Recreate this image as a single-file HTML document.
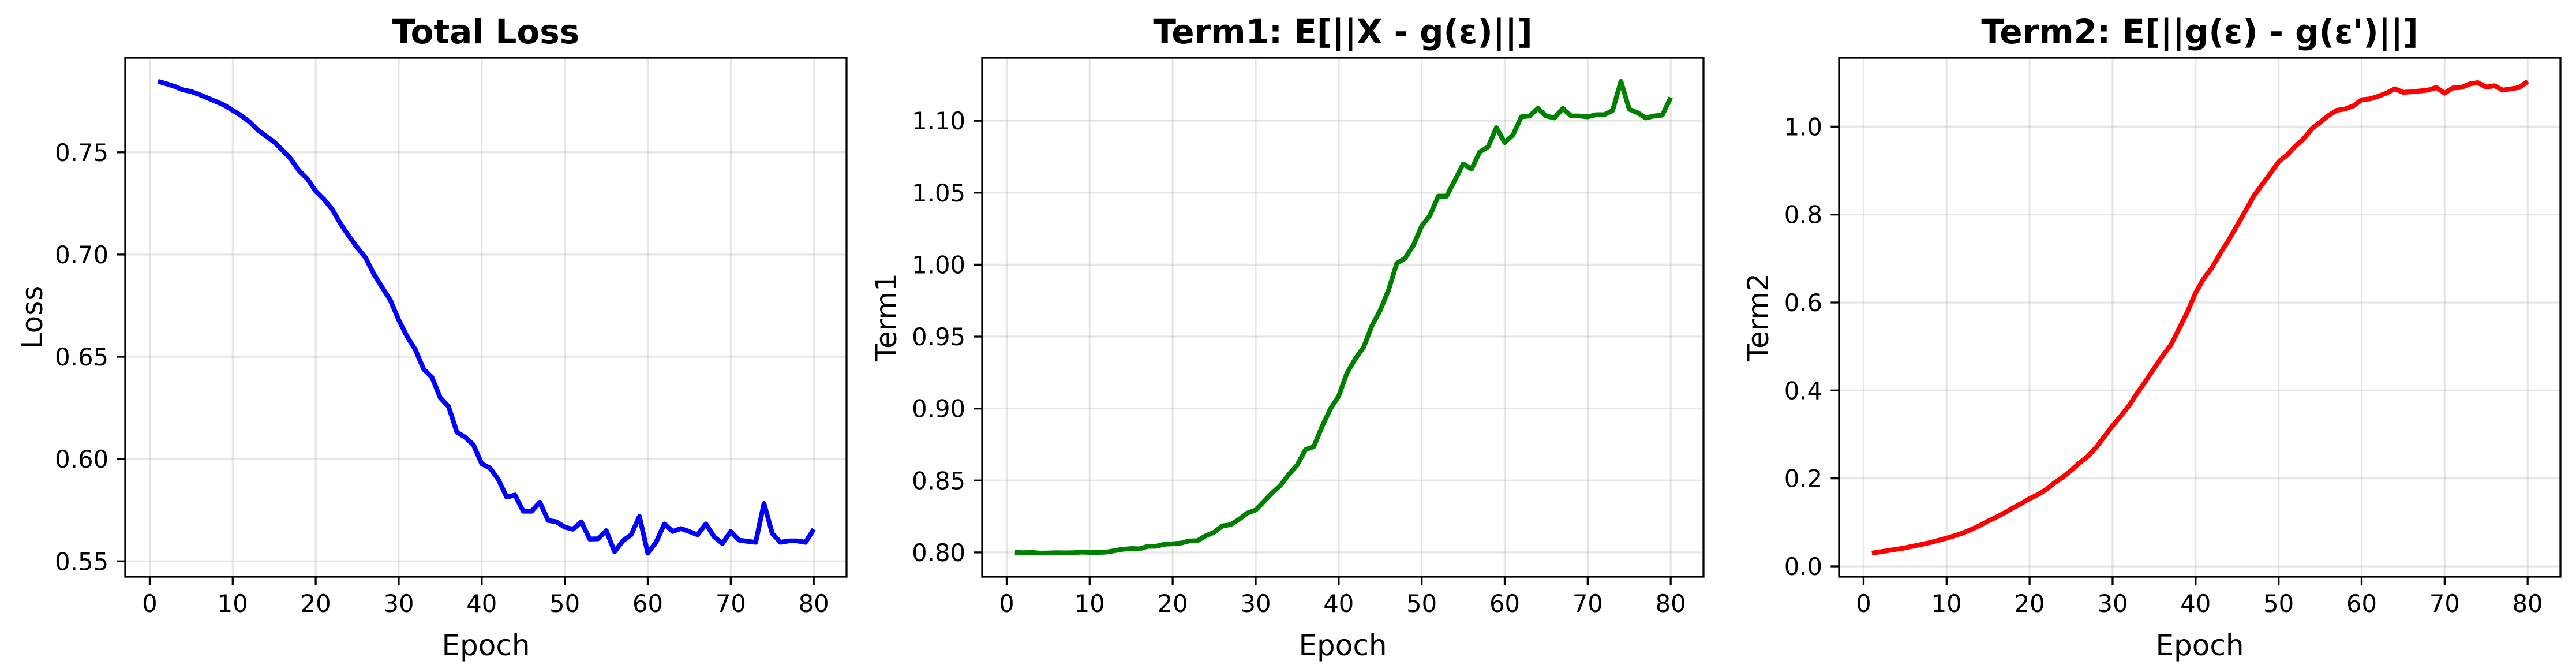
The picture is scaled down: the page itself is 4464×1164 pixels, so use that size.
<!DOCTYPE html>
<html><head><meta charset="utf-8"><style>
html,body{margin:0;padding:0;background:#fff;}
svg{display:block;font-family:"DejaVu Sans","Liberation Sans",sans-serif;}
</style></head><body>
<svg id="chart" width="4464" height="1164" viewBox="0 0 4464 1164" xmlns="http://www.w3.org/2000/svg">
<rect width="4464" height="1164" fill="#fff"/>
</svg>
<script>
const epochs = Array.from({length:80},(_,i)=>i+1);
const totalLoss = [0.7847,0.7835,0.7822,0.7805,0.7797,0.7782,0.7765,0.7748,0.7730,0.7705,0.7680,0.7650,0.7610,0.7580,0.7550,0.7510,0.7467,0.7410,0.7370,0.7310,0.7270,0.7220,0.7150,0.7090,0.7035,0.6985,0.6905,0.6840,0.6776,0.6680,0.6600,0.6535,0.6440,0.6400,0.6300,0.6257,0.6132,0.6107,0.6070,0.5977,0.5956,0.5900,0.5814,0.5824,0.5745,0.5745,0.5789,0.5700,0.5693,0.5667,0.5657,0.5693,0.5609,0.5610,0.5650,0.5547,0.5600,0.5630,0.5720,0.5540,0.5593,0.5683,0.5646,0.5660,0.5646,0.5630,0.5683,0.5620,0.5587,0.5646,0.5604,0.5598,0.5593,0.5783,0.5636,0.5593,0.5600,0.5600,0.5593,0.5657];
const term1 = [0.8000,0.7998,0.8000,0.7995,0.7996,0.7998,0.7997,0.7998,0.8002,0.8000,0.8000,0.8002,0.8012,0.8022,0.8027,0.8025,0.8042,0.8043,0.8057,0.8060,0.8065,0.8080,0.8082,0.8116,0.8140,0.8185,0.8193,0.8230,0.8274,0.8295,0.8354,0.8414,0.8467,0.8542,0.8607,0.8714,0.8735,0.8875,0.8997,0.9086,0.9247,0.9345,0.9426,0.9574,0.9682,0.9821,1.0009,1.0045,1.0134,1.0268,1.0342,1.0476,1.0476,1.0586,1.0700,1.0664,1.0783,1.0818,1.0952,1.0848,1.0902,1.1027,1.1033,1.1086,1.1033,1.1020,1.1086,1.1033,1.1033,1.1027,1.1042,1.1042,1.1071,1.1274,1.1080,1.1056,1.1020,1.1033,1.1039,1.1161];
const term2 = [0.030,0.033,0.036,0.039,0.042,0.046,0.050,0.054,0.059,0.064,0.070,0.076,0.084,0.093,0.103,0.112,0.122,0.133,0.143,0.154,0.163,0.175,0.190,0.203,0.218,0.235,0.250,0.270,0.295,0.320,0.342,0.366,0.395,0.422,0.450,0.478,0.503,0.540,0.578,0.622,0.655,0.680,0.713,0.742,0.775,0.808,0.842,0.868,0.893,0.920,0.935,0.955,0.972,0.995,1.010,1.025,1.037,1.040,1.047,1.061,1.063,1.069,1.076,1.086,1.078,1.079,1.081,1.083,1.089,1.076,1.088,1.089,1.097,1.100,1.090,1.093,1.083,1.086,1.089,1.103];
const xTicks = [0,10,20,30,40,50,60,70,80];
const yTicksLoss = [0.55,0.60,0.65,0.70,0.75];
const yTicksTerm1 = [0.80,0.85,0.90,0.95,1.00,1.05,1.10];
const yTicksTerm2 = [0.0,0.2,0.4,0.6,0.8,1.0];

const NS='http://www.w3.org/2000/svg';
const svg=document.getElementById('chart');
function mk(tag,attrs,parent){const e=document.createElementNS(NS,tag);for(const k in attrs)e.setAttribute(k,attrs[k]);(parent||svg).appendChild(e);return e;}

const panels=[
 {key:'loss',left:217,title:'Total Loss',ylabel:'Loss',ylabOff:162,data:totalLoss,ticks:yTicksLoss,dec:2,color:'#0000ff'},
 {key:'term1',left:1702,title:'Term1: E[||X - g(ε)||]',ylabOff:167,ylabel:'Term1',data:term1,ticks:yTicksTerm1,dec:2,color:'#008000'},
 {key:'term2',left:3187,title:"Term2: E[||g(ε) - g(ε')||]",ylabOff:141,ylabel:'Term2',data:term2,ticks:yTicksTerm2,dec:1,color:'#ff0000'}
];
const W=1250,TOP=100,BOT=999;
panels.forEach(p=>{
  const g=mk('g',{});
  
  
  const xmin=Math.min(...epochs),xmax=Math.max(...epochs),xm=(xmax-xmin)*0.05;
  const x0=xmin-xm,x1=xmax+xm;
  const ymin=Math.min(...p.data),ymax=Math.max(...p.data),ym=(ymax-ymin)*0.05;
  const y0=ymin-ym,y1=ymax+ym;
  const sx=v=>p.left+(v-x0)/(x1-x0)*W;
  const sy=v=>BOT-(v-y0)/(y1-y0)*(BOT-TOP);
  // grid
  xTicks.forEach(t=>{
    const l=mk('line',{x1:sx(t),x2:sx(t),y1:TOP,y2:BOT,stroke:'#b0b0b0','stroke-opacity':0.3,'stroke-width':3.3},g);
    
    
  });
  p.ticks.forEach(t=>{
    const l=mk('line',{x1:p.left,x2:p.left+W,y1:sy(t),y2:sy(t),stroke:'#b0b0b0','stroke-opacity':0.3,'stroke-width':3.3},g);
    
    
  });
  // line
  const d=epochs.map((e,i)=>(i?'L':'M')+sx(e).toFixed(1)+','+sy(p.data[i]).toFixed(1)).join(' ');
  const path=mk('path',{d:d,fill:'none',stroke:p.color,'stroke-width':8.3,'stroke-linejoin':'round','stroke-linecap':'butt'},g);
  
  
  // frame
  const fr=mk('rect',{x:p.left,y:TOP,width:W,height:BOT-TOP,fill:'none',stroke:'#000','stroke-width':3.3},g);
  
  
  // x ticks
  xTicks.forEach(t=>{
    mk('line',{x1:sx(t),x2:sx(t),y1:BOT,y2:BOT+14.6,stroke:'#000','stroke-width':3.3},g);
    const tx=mk('text',{x:sx(t),y:1060,'font-size':41.7,'text-anchor':'middle',fill:'#000'},g);
    tx.textContent=String(t);
    
    
  });
  p.ticks.forEach(t=>{
    mk('line',{x1:p.left-14.6,x2:p.left,y1:sy(t),y2:sy(t),stroke:'#000','stroke-width':3.3},g);
    const tx=mk('text',{x:p.left-29,y:sy(t)+15,'font-size':41.7,'text-anchor':'end',fill:'#000'},g);
    tx.textContent=t.toFixed(p.dec);
    
    
  });
  const ti=mk('text',{x:p.left+W/2,y:75,'font-size':58,'font-weight':'bold','text-anchor':'middle',fill:'#000'},g);
  ti.textContent=p.title;
  
  
  const xl=mk('text',{x:p.left+W/2,y:1135,'font-size':50,'text-anchor':'middle',fill:'#000'},g);
  xl.textContent='Epoch';
  
  
  const cx=p.left-p.ylabOff+18,cy=(TOP+BOT)/2;
  const yl=mk('text',{x:cx,y:cy,'font-size':50,'text-anchor':'middle',fill:'#000',transform:'rotate(-90 '+cx+' '+cy+')'},g);
  yl.textContent=p.ylabel;
  
  
});
</script>
</body></html>
